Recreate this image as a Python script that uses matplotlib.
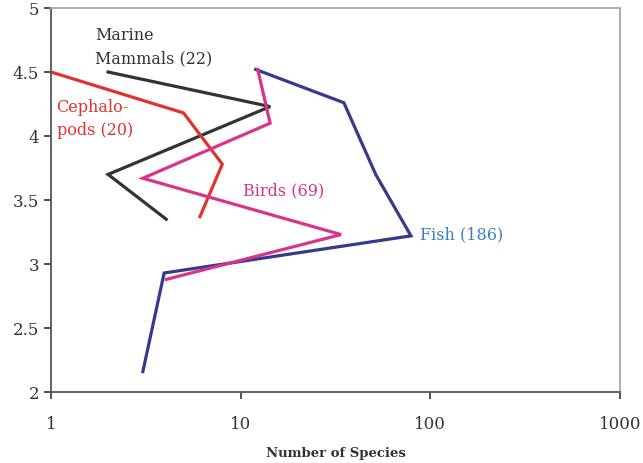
import matplotlib

matplotlib.use("Agg")
import matplotlib.pyplot as plt

plt.rcParams["font.family"] = ["DejaVu Serif"]

# Species depth profiles (x = number of species, y = value)
mammals_x = [2.0, 14.3, 2.0, 4.05]
mammals_y = [4.50, 4.23, 3.70, 3.35]

cephalo_x = [1.0, 5.0, 8.0, 6.1]
cephalo_y = [4.50, 4.18, 3.78, 3.37]

birds_x = [12.3, 14.3, 3.05, 33.8, 4.05]
birds_y = [4.52, 4.10, 3.67, 3.23, 2.88]

fish_x = [12.0, 35.0, 51.5, 79.0, 3.95, 3.05]
fish_y = [4.52, 4.26, 3.70, 3.22, 2.93, 2.16]

x_ticks = [1, 10, 100, 1000]
x_tick_labels = ["1", "10", "100", "1000"]
y_ticks = [2, 2.5, 3, 3.5, 4, 4.5, 5]
y_tick_labels = ["2", "2.5", "3", "3.5", "4", "4.5", "5"]

C_MAMMAL = "#333333"
C_CEPH = "#e2322e"
C_BIRD = "#d8348a"
C_FISH = "#353a8e"
C_FISH_TXT = "#3b80c2"

fig = plt.figure(figsize=(6.43, 4.63), dpi=100)
ax = fig.add_axes([0.0793, 0.1533, 0.885, 0.8294])

lw = 2.3
ax.plot(mammals_x, mammals_y, color=C_MAMMAL, lw=lw, solid_joinstyle="miter")
ax.plot(cephalo_x, cephalo_y, color=C_CEPH, lw=lw, solid_joinstyle="miter")
ax.plot(fish_x, fish_y, color=C_FISH, lw=lw, solid_joinstyle="miter")
ax.plot(birds_x, birds_y, color=C_BIRD, lw=lw, solid_joinstyle="miter")

ax.set_xscale("log")
ax.set_xlim(1, 1000)
ax.set_ylim(2, 5)
ax.set_xticks(x_ticks)
ax.set_xticklabels(x_tick_labels)
ax.set_yticks(y_ticks)
ax.set_yticklabels(y_tick_labels)
ax.minorticks_off()
ax.tick_params(axis="both", labelsize=12, colors="#333333", length=5, width=1.2)
ax.tick_params(axis="x", pad=12)

for side in ("left", "bottom"):
    ax.spines[side].set_color("#555555")
    ax.spines[side].set_linewidth(1.3)
for side in ("top", "right"):
    ax.spines[side].set_color("#a8a8a8")
    ax.spines[side].set_linewidth(1.3)

ax.set_xlabel("Number of Species", fontsize=9.5, fontweight="bold", color="#333333", labelpad=10)

ax.text(1.7, 4.85, "Marine\nMammals (22)", color=C_MAMMAL, fontsize=11.5, linespacing=1.5, va="top")
ax.text(1.07, 4.29, "Cephalo-\npods (20)", color=C_CEPH, fontsize=11.5, linespacing=1.5, va="top")
ax.text(10.3, 3.575, "Birds (69)", color=C_BIRD, fontsize=11.5, va="center")
ax.text(88, 3.225, "Fish (186)", color=C_FISH_TXT, fontsize=11.5, va="center")

fig.savefig("out.png", dpi=100)
